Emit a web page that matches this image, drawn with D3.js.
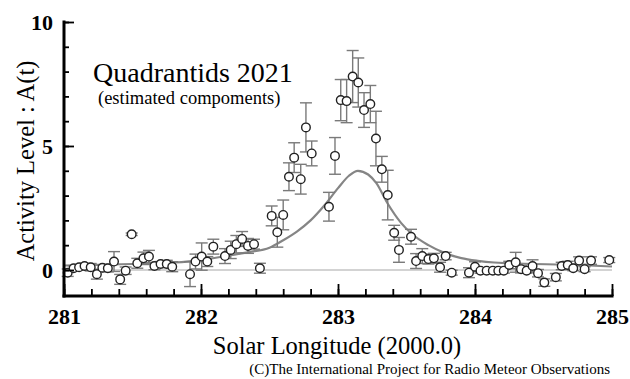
<!DOCTYPE html>
<html>
<head>
<meta charset="utf-8">
<script src="https://cdn.jsdelivr.net/npm/d3@7"></script>
<style>
  body { margin: 0; background: #fff; }
  svg text { font-family: "Liberation Serif", "DejaVu Serif", serif; }
</style>
</head>
<body>
<div id="chart"></div>
<script>
// observed activity (hourly bins): solar longitude, A(t), error
const lon = [281.027,281.07,281.11,281.15,281.195,281.24,281.28,281.32,281.365,281.41,281.45,281.494,
  281.535,281.58,281.62,281.66,281.705,281.75,281.79,281.92,281.96,282.005,282.046,282.09,
  282.175,282.217,282.258,282.30,282.343,282.387,282.43,282.516,282.557,282.6,282.642,282.68,
  282.728,282.766,282.808,282.934,282.978,283.02,283.063,283.107,283.148,283.19,283.236,283.277,
  283.32,283.363,283.41,283.445,283.533,283.57,283.615,283.66,283.70,283.745,283.786,283.83,
  283.956,284.0,284.04,284.085,284.13,284.17,284.21,284.25,284.297,284.336,284.377,284.42,
  284.46,284.506,284.59,284.633,284.677,284.717,284.76,284.80,284.847,284.98]
const act = [-0.11,0.07,0.11,0.16,0.11,-0.17,0.09,0.07,0.34,-0.38,-0.03,1.44,
  0.27,0.47,0.54,0.16,0.24,0.24,0.13,-0.17,0.34,0.54,0.34,0.94,
  0.56,0.81,1.04,1.25,0.97,1.04,0.07,2.18,1.52,2.22,3.76,4.53,
  3.66,5.75,4.70,2.55,4.60,6.85,6.81,7.80,7.56,6.45,6.69,5.30,
  4.06,3.02,1.50,0.81,1.34,0.36,0.56,0.44,0.47,0.11,0.56,-0.11,
  -0.11,0.13,-0.03,-0.03,-0.03,-0.03,-0.03,0.20,0.31,0.03,-0.03,0.16,
  -0.13,-0.51,-0.29,0.16,0.20,0.07,0.38,0.03,0.38,0.40]
const err = [0.15,0.1,0.1,0.1,0.15,0.2,0.1,0.15,0.4,0.2,0.15,0.05,
  0.2,0.25,0.25,0.15,0.1,0.15,0.2,0.5,0.3,0.55,0.2,0.3,
  0.3,0.35,0.35,0.3,0.3,0.2,0.2,0.4,0.6,0.6,0.56,0.6,
  0.6,0.99,0.5,0.58,0.74,0.83,0.87,1.05,0.99,0.7,0.75,1.1,
  0.52,1.0,0.3,0.5,0.3,0.3,0.3,0.2,0.2,0.2,0.15,0.1,
  0.2,0.2,0.1,0.1,0.1,0.1,0.1,0.15,0.4,0.15,0.1,0.25,
  0.15,0.15,0.15,0.15,0.15,0.1,0.15,0.1,0.15,0.1]

// estimated component (model curve)
const modelLon = [281.0,281.5,281.8,282.0,282.2,282.35,282.5,282.6,282.7,282.8,282.9,283.0,283.08,
  283.145,283.22,283.28,283.36,283.46,283.54,283.66,283.78,283.9,284.02,284.14,284.25,284.75,285.0]
const modelAct = [0.18,0.24,0.3,0.4,0.58,0.72,0.9,1.2,1.55,2.0,2.6,3.3,3.8,
  4.0,3.85,3.5,2.7,1.9,1.45,1.0,0.68,0.48,0.37,0.3,0.27,0.2,0.14]

const xMajor = [281,282,283,284,285]
const yMajor = [0,5,10]

const W = 630, H = 379
const x = d3.scaleLinear().domain([281,285]).range([64,612])
const y = d3.scaleLinear().domain([-1.05,10]).range([296,22])

const svg = d3.select("#chart").append("svg")
  .attr("width", W).attr("height", H)

// zero line
svg.append("line")
  .attr("x1", x(281)).attr("x2", x(285))
  .attr("y1", y(0)).attr("y2", y(0))
  .attr("stroke", "#c4c4c4").attr("stroke-width", 1.5)

// model curve
const line = d3.line().x((d,i)=>x(modelLon[i])).y(d=>y(d)).curve(d3.curveMonotoneX)
svg.append("path")
  .datum(modelAct)
  .attr("d", line)
  .attr("fill", "none")
  .attr("stroke", "#858585")
  .attr("stroke-width", 2.2)

// error bars
const pts = lon.map((l,i)=>({l:l, a:act[i], e:err[i]}))
const eb = svg.append("g").attr("stroke", "#7a7a7a").attr("stroke-width", 1.4)
pts.forEach(d=>{
  eb.append("line").attr("x1", x(d.l)).attr("x2", x(d.l)).attr("y1", y(d.a-d.e)).attr("y2", y(d.a+d.e))
  ;[d.a-d.e, d.a+d.e].forEach(v=>{
    eb.append("line").attr("x1", x(d.l)-6).attr("x2", x(d.l)+6).attr("y1", y(v)).attr("y2", y(v))
  })
})

// points
svg.append("g").selectAll("circle")
  .data(pts)
  .enter().append("circle")
  .attr("cx", d=>x(d.l))
  .attr("cy", d=>y(d.a))
  .attr("r", 4.3)
  .attr("fill", "#fff")
  .attr("stroke", "#222")
  .attr("stroke-width", 1.4)

// axes
const xAxis = svg.append("g").attr("transform", `translate(0,${y.range()[0]})`)
  .call(d3.axisBottom(x).tickValues(xMajor).tickSize(-12).tickSizeOuter(0).tickFormat(d3.format("d")))
svg.append("g").attr("transform", `translate(0,${y.range()[0]})`)
  .call(d3.axisBottom(x).tickValues(d3.range(281,285.01,0.2)).tickSize(-7).tickSizeOuter(0).tickFormat(""))
  .call(g=>g.select(".domain").remove())
const yAxis = svg.append("g").attr("transform", `translate(${x.range()[0]},0)`)
  .call(d3.axisLeft(y).tickValues(yMajor).tickSize(-10).tickSizeOuter(0).tickPadding(11).tickFormat(d3.format("d")))
svg.append("g").attr("transform", `translate(${x.range()[0]},0)`)
  .call(d3.axisLeft(y).tickValues(d3.range(0,10.01,1)).tickSize(-5).tickSizeOuter(0).tickFormat(""))
  .call(g=>g.select(".domain").remove())

xAxis.select(".domain").attr("d", `M${x.range()[0]},0H${x.range()[1]}`)
yAxis.select(".domain").attr("d", `M0,${y.range()[1]}V${y.range()[0]}`)
svg.selectAll(".domain").attr("stroke", "#000").attr("stroke-width", 3).attr("stroke-linecap", "square")
svg.selectAll(".tick line").attr("stroke", "#000").attr("stroke-width", 1.8)
svg.selectAll(".tick text")
  .attr("fill", "#000")
  .style("font-family", "'Liberation Serif', serif")
  .style("font-size", "22px")
  .style("font-weight", "bold")
xAxis.selectAll(".tick text").attr("y", 12)

// titles
svg.append("text").attr("x", 93).attr("y", 82)
  .style("font-size", "28px").text("Quadrantids 2021")
svg.append("text").attr("x", 98).attr("y", 104)
  .style("font-size", "18.5px").text("(estimated compoments)")

svg.append("text")
  .attr("transform", "translate(34,161) rotate(-90)")
  .attr("text-anchor", "middle")
  .style("font-size", "24.5px").text("Activity Level : A(t)")
svg.append("text").attr("x", 337).attr("y", 354)
  .attr("text-anchor", "middle")
  .style("font-size", "24.5px").text("Solar Longitude (2000.0)")
svg.append("text").attr("x", 610).attr("y", 374)
  .attr("text-anchor", "end")
  .style("font-size", "15px").text("(C)The International Project for Radio Meteor Observations")
</script>
</body>
</html>
